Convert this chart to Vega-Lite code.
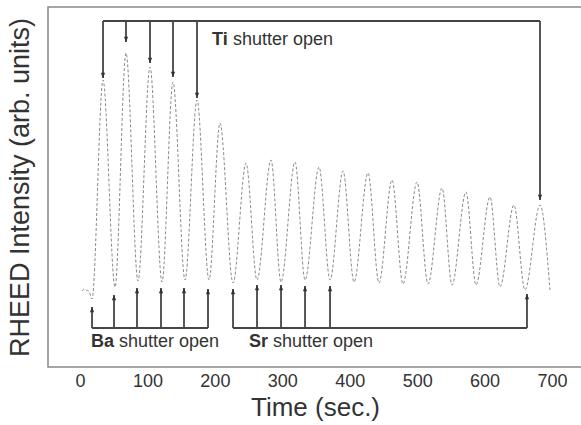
{
  "$schema": "https://vega.github.io/schema/vega-lite/v6.json",
  "width": 534,
  "height": 360,
  "autosize": "none",
  "padding": {"left": 48, "top": 7, "right": 0, "bottom": 58},
  "config": {
    "font": "Liberation Sans",
    "view": {"stroke": "#888", "strokeWidth": 1.5},
    "background": "white"
  },
  "datasets": {
    "curve": [
      {"t": 3.0, "I": 76}, {"t": 6.0, "I": 78}, {"t": 9.0, "I": 77}, {"t": 13.0, "I": 76},
      {"t": 17.8, "I": 68},
      {"t": 34.1, "I": 287}, {"t": 51.9, "I": 80},
      {"t": 68.2, "I": 314}, {"t": 86.0, "I": 86},
      {"t": 103.8, "I": 300}, {"t": 121.6, "I": 85},
      {"t": 137.9, "I": 285}, {"t": 155.7, "I": 87},
      {"t": 173.5, "I": 267}, {"t": 191.3, "I": 87},
      {"t": 207.6, "I": 244}, {"t": 226.9, "I": 84},
      {"t": 246.2, "I": 204}, {"t": 262.5, "I": 87},
      {"t": 283.3, "I": 207}, {"t": 298.1, "I": 85},
      {"t": 318.9, "I": 205}, {"t": 333.7, "I": 87},
      {"t": 354.5, "I": 200}, {"t": 370.8, "I": 87},
      {"t": 390.1, "I": 196}, {"t": 406.4, "I": 85},
      {"t": 427.1, "I": 194}, {"t": 443.4, "I": 84},
      {"t": 462.7, "I": 187}, {"t": 479.0, "I": 83},
      {"t": 499.8, "I": 185}, {"t": 516.1, "I": 83},
      {"t": 536.9, "I": 179}, {"t": 551.7, "I": 82},
      {"t": 572.4, "I": 175}, {"t": 587.3, "I": 82},
      {"t": 608.0, "I": 170}, {"t": 622.9, "I": 80},
      {"t": 643.6, "I": 162}, {"t": 659.9, "I": 77},
      {"t": 682.2, "I": 162}, {"t": 697.0, "I": 77}
    ],
    "vlines": [
      {"t": 34.1, "I": 346, "I2": 289, "dir": "down"},
      {"t": 68.2, "I": 346, "I2": 325, "dir": "down"},
      {"t": 103.8, "I": 346, "I2": 304, "dir": "down"},
      {"t": 137.9, "I": 346, "I2": 290, "dir": "down"},
      {"t": 173.5, "I": 346, "I2": 269, "dir": "down"},
      {"t": 682.2, "I": 346, "I2": 167, "dir": "down"},
      {"t": 17.8, "I": 39, "I2": 60, "dir": "up"},
      {"t": 50.4, "I": 39, "I2": 72, "dir": "up"},
      {"t": 84.5, "I": 39, "I2": 79, "dir": "up"},
      {"t": 120.1, "I": 39, "I2": 79, "dir": "up"},
      {"t": 154.2, "I": 39, "I2": 79, "dir": "up"},
      {"t": 189.8, "I": 39, "I2": 78, "dir": "up"},
      {"t": 226.9, "I": 39, "I2": 78, "dir": "up"},
      {"t": 262.5, "I": 39, "I2": 82, "dir": "up"},
      {"t": 298.1, "I": 39, "I2": 82, "dir": "up"},
      {"t": 333.7, "I": 39, "I2": 81, "dir": "up"},
      {"t": 370.8, "I": 39, "I2": 81, "dir": "up"},
      {"t": 662.9, "I": 39, "I2": 73, "dir": "up"}
    ],
    "hlines": [
      {"t": 34.1, "t2": 682.2, "I": 346},
      {"t": 17.8, "t2": 189.8, "I": 39},
      {"t": 226.9, "t2": 662.9, "I": 39}
    ],
    "labels": [
      {"t": 195.8, "I": 327, "bold": "Ti", "rest": "shutter open", "t2": 226.9},
      {"t": 16.3, "I": 25, "bold": "Ba", "rest": "shutter open", "t2": 57.8},
      {"t": 250.6, "I": 25, "bold": "Sr", "rest": "shutter open", "t2": 286.2}
    ]
  },
  "layer": [
    {
      "data": {"name": "curve"},
      "mark": {"type": "line", "color": "#8a8a8a", "strokeWidth": 1, "strokeDash": [3, 2], "interpolate": "monotone"},
      "encoding": {
        "x": {
          "field": "t", "type": "quantitative",
          "scale": {"domain": [-47.5, 744.5], "nice": false, "zero": false},
          "axis": {
            "title": "Time (sec.)", "values": [0, 100, 200, 300, 400, 500, 600, 700],
            "grid": false, "ticks": false, "domain": false,
            "labelFontSize": 18, "labelColor": "#333", "labelPadding": 5,
            "titleFontSize": 26, "titleFontWeight": "normal", "titleColor": "#333", "titlePadding": 4
          }
        },
        "y": {
          "field": "I", "type": "quantitative",
          "scale": {"domain": [0, 360], "nice": false},
          "axis": {
            "title": "RHEED Intensity (arb. units)",
            "grid": false, "ticks": false, "domain": false, "labels": false,
            "titleFontSize": 27, "titleFontWeight": "normal", "titleColor": "#333", "titlePadding": 14
          }
        }
      }
    },
    {
      "data": {"name": "vlines"},
      "mark": {"type": "rule", "color": "#444", "strokeWidth": 1.8},
      "encoding": {
        "x": {"field": "t", "type": "quantitative"},
        "y": {"field": "I", "type": "quantitative"},
        "y2": {"field": "I2"}
      }
    },
    {
      "data": {"name": "hlines"},
      "mark": {"type": "rule", "color": "#444", "strokeWidth": 1.8},
      "encoding": {
        "x": {"field": "t", "type": "quantitative"},
        "x2": {"field": "t2"},
        "y": {"field": "I", "type": "quantitative"}
      }
    },
    {
      "data": {"name": "vlines"},
      "mark": {"type": "point", "filled": true, "color": "#333", "size": 110, "opacity": 1, "strokeWidth": 0},
      "encoding": {
        "x": {"field": "t", "type": "quantitative"},
        "y": {"field": "I2", "type": "quantitative"},
        "shape": {
          "field": "dir", "type": "nominal", "legend": null,
          "scale": {"domain": ["down", "up"], "range": ["M0,0L-0.4,-1L0.4,-1Z", "M0,0L-0.4,1L0.4,1Z"]}
        }
      }
    },
    {
      "data": {"name": "labels"},
      "mark": {"type": "text", "align": "left", "baseline": "middle", "fontSize": 18, "fontWeight": "bold", "color": "#333"},
      "encoding": {
        "x": {"field": "t", "type": "quantitative"},
        "y": {"field": "I", "type": "quantitative"},
        "text": {"field": "bold"}
      }
    },
    {
      "data": {"name": "labels"},
      "mark": {"type": "text", "align": "left", "baseline": "middle", "fontSize": 18, "color": "#333"},
      "encoding": {
        "x": {"field": "t2", "type": "quantitative"},
        "y": {"field": "I", "type": "quantitative"},
        "text": {"field": "rest"}
      }
    }
  ]
}
